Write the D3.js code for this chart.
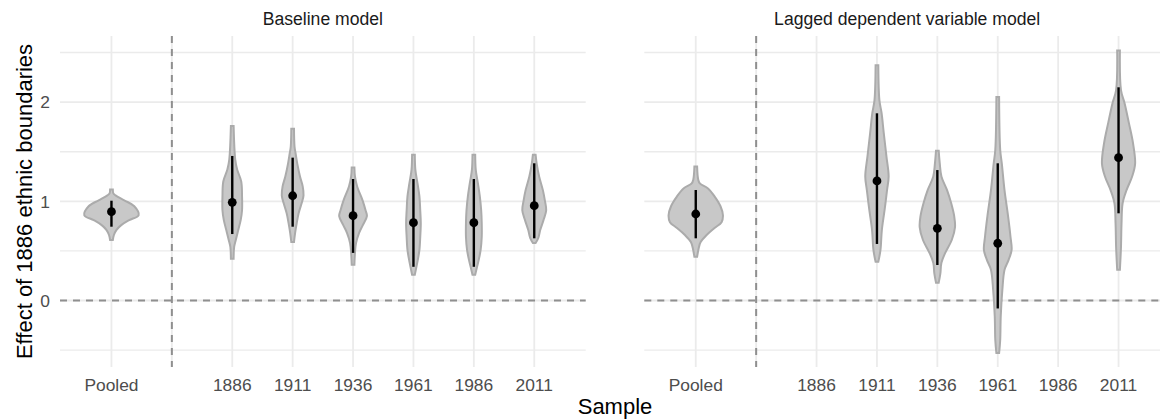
<!DOCTYPE html>
<html>
<head>
<meta charset="utf-8">
<title>Effect of 1886 ethnic boundaries</title>
<script src="https://cdn.jsdelivr.net/npm/d3@7"></script>
<style>
  body { margin: 0; background: #fff; }
  svg { display: block; font-family: "Liberation Sans", Arial, Helvetica, sans-serif; }
</style>
</head>
<body>
<svg id="chart" width="1160" height="420"></svg>
<script>
// ---- data ----
const categories = ["Pooled", "", "1886", "1911", "1936", "1961", "1986", "2011"];
const panelTitles = ["Baseline model", "Lagged dependent variable model"];
const yMajor = [0, 1, 2];
const yMinor = [-0.5, 0.5, 1.5, 2.5];

// baseline model
const baseSamples = ["Pooled", "1886", "1911", "1936", "1961", "1986", "2011"];
const baseEst = [0.895, 0.99, 1.056, 0.855, 0.784, 0.784, 0.956];
const baseLo  = [0.744, 0.67, 0.744, 0.48, 0.34, 0.34, 0.627];
const baseHi  = [1.006, 1.457, 1.44, 1.225, 1.225, 1.225, 1.383];
// violin profiles: [value, relative density]
const baseDensity = [
  [[1.12,.05],[1.08,.07],[1.06,.15],[1.01,.47],[.95,.84],[.86,1.0],[.81,.65],[.76,.36],[.71,.18],[.66,.09],[.61,.05]],
  [[1.76,.05],[1.42,.11],[1.32,.18],[1.2,.33],[1.05,.36],[.91,.36],[.81,.31],[.71,.22],[.61,.13],[.54,.07],[.42,.05]],
  [[1.73,.05],[1.55,.07],[1.48,.11],[1.38,.17],[1.25,.27],[1.15,.37],[1.06,.4],[.98,.33],[.88,.22],[.78,.15],[.68,.09],[.59,.05]],
  [[1.34,.05],[1.25,.07],[1.15,.15],[1.01,.35],[.91,.46],[.85,.51],[.76,.36],[.68,.22],[.58,.11],[.48,.07],[.36,.05]],
  [[1.47,.05],[1.32,.07],[1.18,.15],[1.05,.22],[.91,.25],[.78,.27],[.64,.25],[.51,.22],[.41,.16],[.34,.11],[.26,.05]],
  [[1.47,.05],[1.32,.07],[1.18,.15],[1.05,.22],[.91,.27],[.78,.29],[.64,.29],[.51,.25],[.41,.18],[.33,.11],[.26,.05]],
  [[1.47,.05],[1.38,.09],[1.25,.18],[1.11,.32],[1.01,.39],[.91,.44],[.81,.34],[.71,.22],[.63,.15],[.58,.05]]
];

// lagged dependent variable model
const lagSamples = ["Pooled", "1911", "1936", "1961", "2011"];
const lagEst = [0.872, 1.205, 0.728, 0.577, 1.44];
const lagLo  = [0.627, 0.57, 0.358, -0.08, 0.879];
const lagHi  = [1.114, 1.887, 1.315, 1.383, 2.149];
const lagDensity = [
  [[1.35,.05],[1.22,.09],[1.18,.15],[1.13,.45],[1.05,.69],[.95,.91],[.86,1.0],[.79,.95],[.73,.69],[.66,.4],[.59,.18],[.53,.11],[.44,.05]],
  [[2.37,.05],[2.02,.09],[1.89,.17],[1.69,.25],[1.45,.35],[1.25,.43],[1.11,.37],[.91,.28],[.71,.18],[.51,.13],[.39,.05]],
  [[1.51,.05],[1.38,.09],[1.25,.15],[1.11,.36],[.98,.51],[.85,.62],[.74,.65],[.61,.53],[.48,.29],[.38,.15],[.27,.11],[.18,.05]],
  [[2.05,.05],[1.52,.09],[1.38,.15],[1.11,.25],[.85,.38],[.64,.47],[.51,.51],[.41,.4],[.31,.25],[.11,.17],[-.16,.11],[-.4,.09],[-.53,.05]],
  [[2.52,.05],[2.12,.09],[1.99,.22],[1.79,.38],[1.59,.53],[1.38,.61],[1.25,.5],[1.11,.29],[.98,.15],[.78,.11],[.54,.09],[.31,.05]]
];

// ---- layout ----
const svg = d3.select("#chart");
const plotTop = 36, plotBottom = 367;
const panels = [
  { title: panelTitles[0], x0: 60, x1: 585.7, samples: baseSamples, est: baseEst, lo: baseLo, hi: baseHi, dens: baseDensity },
  { title: panelTitles[1], x0: 644.3, x1: 1170, samples: lagSamples, est: lagEst, lo: lagLo, hi: lagHi, dens: lagDensity }
];

const y = d3.scaleLinear().domain([-0.67, 2.666]).range([plotBottom, plotTop]);

panels.forEach((p, pi) => {
  const x = d3.scalePoint().domain(categories).range([p.x0, p.x1]).padding(0.852);
  const w = d3.scaleLinear().domain([0, 1]).range([0, 0.45 * x.step()]);
  const g = svg.append("g");

  // grid
  g.selectAll(".minor").data(yMinor).enter().append("line")
    .attr("x1", p.x0).attr("x2", p.x1)
    .attr("y1", d => y(d)).attr("y2", d => y(d))
    .attr("stroke", "#ebebeb").attr("stroke-width", 1.4);
  g.selectAll(".major").data(yMajor).enter().append("line")
    .attr("x1", p.x0).attr("x2", p.x1)
    .attr("y1", d => y(d)).attr("y2", d => y(d))
    .attr("stroke", "#ebebeb").attr("stroke-width", 1.8);
  g.selectAll(".vgrid").data(categories).enter().append("line")
    .attr("x1", d => x(d)).attr("x2", d => x(d))
    .attr("y1", plotTop).attr("y2", plotBottom)
    .attr("stroke", "#ebebeb").attr("stroke-width", 1.8);

  // reference lines
  g.append("line")
    .attr("x1", p.x0).attr("x2", p.x1).attr("y1", y(0)).attr("y2", y(0))
    .attr("stroke", "#8f8f8f").attr("stroke-width", 2).attr("stroke-dasharray", "7,6");
  g.append("line")
    .attr("x1", x("")).attr("x2", x("")).attr("y1", plotTop).attr("y2", plotBottom)
    .attr("stroke", "#8f8f8f").attr("stroke-width", 2).attr("stroke-dasharray", "7,6");

  // violins
  p.samples.forEach((s, i) => {
    const cx = x(s);
    const area = d3.area()
      .y(d => y(d[0]))
      .x0(d => cx - w(d[1]))
      .x1(d => cx + w(d[1]))
      .curve(d3.curveCatmullRom);
    g.append("path")
      .datum(p.dens[i])
      .attr("d", area)
      .attr("fill", "#c8c8c8")
      .attr("stroke", "#ababab")
      .attr("stroke-width", 2);
    g.append("line")
      .attr("x1", cx).attr("x2", cx)
      .attr("y1", y(p.lo[i])).attr("y2", y(p.hi[i]))
      .attr("stroke", "#000").attr("stroke-width", 2.4);
    g.append("circle")
      .attr("cx", cx).attr("cy", y(p.est[i])).attr("r", 4.4)
      .attr("fill", "#000");
  });

  // x tick labels
  g.selectAll(".xt").data(categories.filter(c => c !== "")).enter().append("text")
    .attr("x", d => x(d)).attr("y", 391)
    .attr("text-anchor", "middle")
    .attr("font-size", 17.4).attr("fill", "#4d4d4d")
    .text(d => d);

  // strip title
  g.append("text")
    .attr("x", (p.x0 + p.x1) / 2).attr("y", 25)
    .attr("text-anchor", "middle")
    .attr("font-size", 17.6).attr("fill", "#1a1a1a")
    .text(p.title);

  // y tick labels only on the first panel
  if (pi === 0) {
    g.selectAll(".yt").data(yMajor).enter().append("text")
      .attr("x", 50).attr("y", d => y(d)).attr("dy", "0.36em")
      .attr("text-anchor", "end")
      .attr("font-size", 17.4).attr("fill", "#4d4d4d")
      .text(d => d);
  }
});

// axis titles
svg.append("text")
  .attr("x", (60 + 1170) / 2).attr("y", 414)
  .attr("text-anchor", "middle").attr("font-size", 22)
  .text("Sample");
svg.append("text")
  .attr("transform", `translate(32,${(plotTop + plotBottom) / 2}) rotate(-90)`)
  .attr("text-anchor", "middle").attr("font-size", 22)
  .text("Effect of 1886 ethnic boundaries");
</script>
</body>
</html>
